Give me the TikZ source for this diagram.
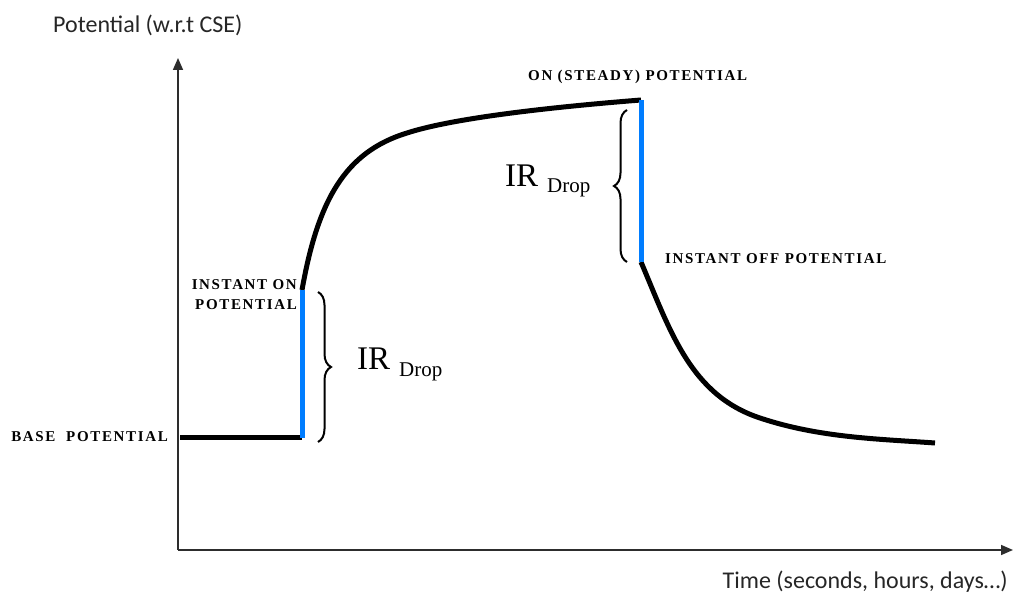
\documentclass[tikz,border=0pt]{standalone}
\usepackage{fontspec}
\setmainfont{Liberation Serif}
\newfontfamily\axisfont{Carlito}
\newfontfamily\capfont[LetterSpace=11]{Liberation Serif}
\usetikzlibrary{arrows.meta,decorations.pathreplacing}
\definecolor{dropblue}{RGB}{0,125,255}
\definecolor{axisgray}{RGB}{45,45,45}
\tikzstyle{axis} = [draw=axisgray, line width=1.6pt, -{Triangle[length=12pt,width=10pt]}]
\tikzstyle{curve} = [draw, line width=5pt]
\tikzstyle{jump} = [draw=dropblue, line width=5pt]
\tikzstyle{brace} = [draw, line width=2pt, decorate,
    decoration={brace, amplitude=13pt}]
\tikzstyle{tag} = [font=\capfont\bfseries\fontsize{15}{20}\selectfont,
    inner sep=0pt]
\tikzstyle{axislabel} = [font=\axisfont\fontsize{24}{28}\selectfont,
    text=black!85, inner sep=0pt]
\tikzstyle{drop} = [anchor=base west, inner sep=0pt]

\begin{document}
\begin{tikzpicture}[x=1pt, y=-1pt]
    \useasboundingbox (0,0) rectangle (1013,593);
    % Key points
    \coordinate (origin) at (178,550);
    \coordinate (ytop) at (178,58);
    \coordinate (xend) at (1013,550);
    \coordinate (base) at (180,438);
    \coordinate (on) at (302,438);
    \coordinate (ion) at (302,290);
    \coordinate (knee) at (407,133);
    \coordinate (steady) at (641,100);
    \coordinate (ioff) at (641,262);
    \coordinate (bend) at (760,418);
    \coordinate (final) at (935,443);
    % Axes
    \path [axis] (origin) -- (ytop);
    \path [axis] (origin) -- (xend);
    % Potential curve
    \path [curve] (base) -- (on);
    \path [curve] (ion) .. controls (318,200) and (345,152) .. (knee)
        .. controls (450,119) and (540,108) .. (steady);
    \path [curve] (ioff) .. controls (670,330) and (690,395) .. (bend)
        .. controls (820,438) and (880,439) .. (final);
    \path [jump] (on) -- (ion);
    \path [jump] (steady) -- (ioff);
    % Braces
    \path [brace] (318,292) -- (318,442);
    \path [brace] (627,262) -- (627,110);
    % Labels
    \node [axislabel, anchor=west] (ylbl) at (53,25) {Potential (w.r.t CSE)};
    \node [axislabel, anchor=east] (xlbl) at (1008,582) {Time (seconds, hours, days\ldots)};
    \node [tag, anchor=east] (baselbl) at (168,437) {BASE\ \ POTENTIAL};
    \node [tag, anchor=east, align=right] (ionlbl) at (297,295) {INSTANT ON\\POTENTIAL};
    \node [tag, anchor=west] (steadylbl) at (528,77) {ON (STEADY) POTENTIAL};
    \node [tag, anchor=west] (iofflbl) at (665,259) {INSTANT OFF POTENTIAL};
    \node [drop] (drop1) at (357,370) {\fontsize{33}{33}\selectfont IR\hspace{9pt}\raisebox{-7pt}{\fontsize{21}{21}\selectfont Drop}};
    \node [drop] (drop2) at (505,187) {\fontsize{33}{33}\selectfont IR\hspace{9pt}\raisebox{-6pt}{\fontsize{21}{21}\selectfont Drop}};
\end{tikzpicture}
\end{document}
